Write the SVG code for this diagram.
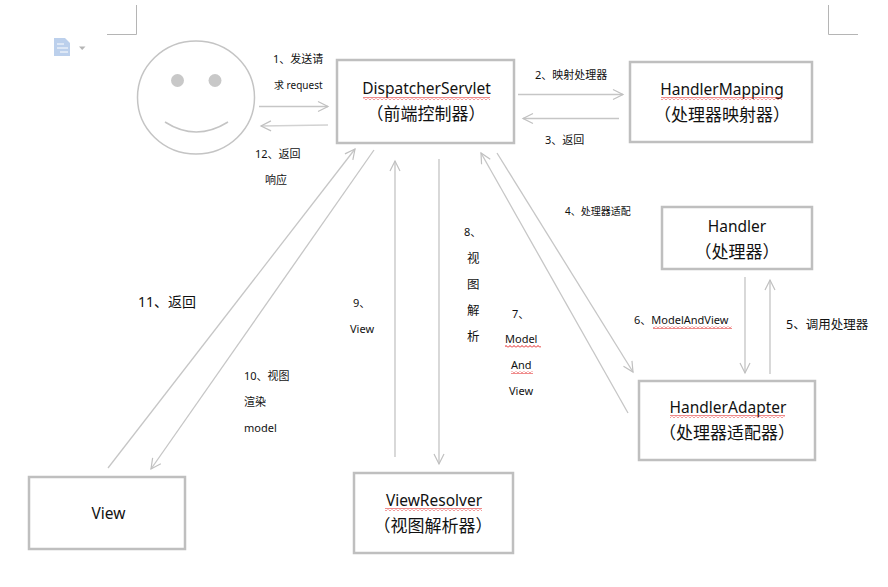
<svg xmlns="http://www.w3.org/2000/svg" width="888" height="587" viewBox="0 0 888 587">
<style>
text{font-family:"Noto Sans","Noto Sans CJK SC",sans-serif;fill:#111}
.n{font-size:15.500px;text-anchor:middle}
.k{font-size:17px;text-anchor:middle}
.s{font-size:11px}
.t{font-size:10px}
.m{font-size:12.500px}
.box{fill:#fff;stroke:#bfbfbf;stroke-width:2.500}
.c{fill:none;stroke:#c6c6c6;stroke-width:1.300}
.v{fill:none;stroke:#d2d2d2;stroke-width:1.700}
.f{fill:none;stroke:#c4c4c4;stroke-width:1.500}
</style>
<defs>
<marker id="a" markerWidth="14" markerHeight="14" refX="11" refY="6" orient="auto" markerUnits="userSpaceOnUse" viewBox="0 0 14 12"><path d="M1 1L11 6L1 11" fill="none" stroke="#c0c0c0" stroke-width="1.200"/></marker>
<pattern id="z" width="4" height="3" patternUnits="userSpaceOnUse"><path d="M0 2.500L2 .5L4 2.500" fill="none" stroke="#e01818" stroke-width="1"/></pattern>
</defs>
<rect width="888" height="587" fill="#fff"/>
<g id="page-marks">
<path d="M136.500 5V34.500H107M828.500 5V34.500H858" fill="none" stroke="#b5b5b5" stroke-width="1"/>
<path d="M54 38H65L70 43V56H54Z" fill="#bcd0ec"/>
<path d="M57 44H64M57 48H68M60 52H68" stroke="#fff" stroke-width="1"/>
<path d="M79 46.500H85.500L82.200 50Z" fill="#b5b5b5"/>
</g>
<g id="connectors">
<path class="c" marker-end="url(#a)" d="M259 106.500H328"/>
<path class="v" marker-end="url(#a)" d="M328 125L261 126"/>
<path class="c" marker-end="url(#a)" d="M518 94.500H623"/>
<path class="c" marker-end="url(#a)" d="M619 118.500H523"/>
<path class="c" marker-end="url(#a)" d="M497 153L633 372"/>
<path class="c" marker-end="url(#a)" d="M628 413L481 153"/>
<path class="v" marker-end="url(#a)" d="M439 159V464"/>
<path class="v" marker-end="url(#a)" d="M395 457V161"/>
<path class="c" marker-end="url(#a)" d="M374 150L151 469"/>
<path class="c" marker-end="url(#a)" d="M108 468L355 149"/>
<path class="v" marker-end="url(#a)" d="M745 277V373"/>
<path class="v" marker-end="url(#a)" d="M770 374V280"/>
</g>
<g id="user">
<ellipse class="f" cx="196" cy="97.500" rx="58.500" ry="56.500"/>
<circle cx="177.500" cy="80.500" r="6.500" fill="#c8c8c8"/>
<circle cx="215" cy="80.500" r="6.500" fill="#c8c8c8"/>
<path class="f" d="M165 122Q196 142 228 122"/>
</g>
<g id="dispatcher">
<rect class="box" x="337" y="60" width="177" height="83"/>
<text class="n" x="426.500" y="94">DispatcherServlet</text>
<text class="k" x="426" y="120">（前端控制器）</text>
<rect x="363" y="97" width="127" height="3" fill="url(#z)"/>
</g>
<g id="handler-mapping">
<rect class="box" x="630" y="62" width="182" height="80"/>
<text class="n" x="722" y="95">HandlerMapping</text>
<text class="k" x="722" y="121">（处理器映射器）</text>
<rect x="661" y="97" width="121" height="3" fill="url(#z)"/>
</g>
<g id="handler">
<rect class="box" x="662" y="207" width="150" height="62"/>
<text class="n" x="737" y="232">Handler</text>
<text class="k" x="737" y="258">（处理器）</text>
</g>
<g id="handler-adapter">
<rect class="box" x="639" y="381" width="176" height="79"/>
<text class="n" x="728" y="413">HandlerAdapter</text>
<text class="k" x="727" y="439">（处理器适配器）</text>
<rect x="670" y="415" width="115" height="3" fill="url(#z)"/>
</g>
<g id="view-resolver">
<rect class="box" x="354" y="473" width="159" height="80"/>
<text class="n" x="434" y="506">ViewResolver</text>
<text class="k" x="433" y="532">（视图解析器）</text>
<rect x="385" y="508" width="97" height="3" fill="url(#z)"/>
</g>
<g id="view">
<rect class="box" x="29" y="477" width="156" height="72"/>
<text class="n" x="108.500" y="519">View</text>
</g>
<g id="labels">
<text class="s" x="273" y="63">1、发送请</text>
<text class="t" x="274" y="89">求 request</text>
<text class="s" x="255" y="158">12、返回</text>
<text class="s" x="265" y="184">响应</text>
<text class="s" x="535" y="79">2、映射处理器</text>
<text class="s" x="545" y="144">3、返回</text>
<text class="t" x="565" y="215">4、处理器适配</text>
<text class="s" x="634" y="324">6、ModelAndView</text>
<rect x="653" y="326" width="79" height="3" fill="url(#z)"/>
<text class="m" x="786" y="329">5、调用处理器</text>
<text class="m" x="138" y="307" style="font-size:14px">11、返回</text>
<text class="s" x="464" y="236">8、</text>
<text class="m" x="467" y="263">视</text>
<text class="m" x="467" y="289">图</text>
<text class="m" x="467" y="315">解</text>
<text class="m" x="467" y="341">析</text>
<text class="s" x="353" y="307">9、</text>
<text class="s" x="350" y="333">View</text>
<text class="s" x="512" y="318">7、</text>
<text class="s" x="505" y="343">Model</text>
<rect x="505" y="345" width="36" height="3" fill="url(#z)"/>
<text class="s" x="511" y="369">And</text>
<rect x="511" y="371" width="22" height="3" fill="url(#z)"/>
<text class="s" x="509" y="395">View</text>
<text class="s" x="244" y="380">10、视图</text>
<text class="s" x="244" y="406">渲染</text>
<text class="s" x="244" y="432">model</text>
</g>
</svg>
